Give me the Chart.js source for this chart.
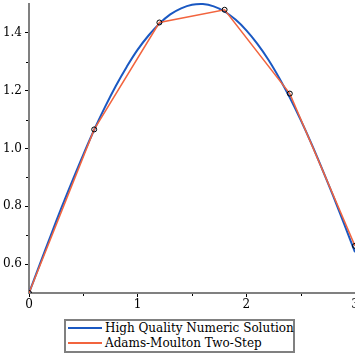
<!DOCTYPE html>
<html><head><meta charset="utf-8">
<script src="https://cdn.jsdelivr.net/npm/chart.js@4"></script>
<style>
html,body{margin:0;padding:0;background:#fff;}
#wrap{position:relative;width:355px;height:355px;}
#legend{position:absolute;left:64px;top:319px;width:227px;height:30px;border:2px solid #808080;background:#fff;font-family:"DejaVu Serif",serif;font-size:12px;color:#000;}
.row{position:absolute;left:2px;height:15px;line-height:15px;white-space:nowrap;}
.sw{display:inline-block;width:34px;height:2px;vertical-align:middle;margin-right:3px;position:relative;top:-1px;}
</style></head>
<body>
<div id="wrap"><canvas id="c" width="355" height="355"></canvas>
<div id="legend">
<div class="row" style="top:0px"><span class="sw" id="sw1"></span><span id="l1"></span></div>
<div class="row" style="top:15px"><span class="sw" id="sw2"></span><span id="l2"></span></div>
</div></div>
<script>
const seriesNames = ["High Quality Numeric Solution", "Adams-Moulton Two-Step"];
const exactX = [0,0.1,0.2,0.3,0.4,0.5,0.6,0.7,0.8,0.9,1.0,1.1,1.2,1.3,1.4,1.5,1.6,1.7,1.8,1.9,2.0,2.1,2.2,2.3,2.4,2.5,2.6,2.7,2.8,2.9,3.0];
const exactY = [0.5,0.600,0.699,0.796,0.889,0.979,1.065,1.144,1.217,1.283,1.342,1.391,1.432,1.464,1.485,1.4975,1.4996,1.4917,1.474,1.446,1.409,1.363,1.309,1.246,1.176,1.099,1.016,0.927,0.835,0.739,0.641];
const amX = [0,0.6,1.2,1.8,2.4,3.0];
const amY = [0.5,1.066,1.436,1.480,1.190,0.663];
const yMajorTicks = [0.6,0.8,1.0,1.2,1.4];
const yMinorTicks = [0.7,0.9,1.1,1.3];
const xMajorTicks = [0,1,2,3];
const xMinorTicks = [0.5,1.5,2.5];
const blue = "#1a58c2", orange = "#f2643e";

document.getElementById('l1').textContent = seriesNames[0];
document.getElementById('l2').textContent = seriesNames[1];
document.getElementById('sw1').style.background = blue;
document.getElementById('sw2').style.background = orange;

const font = {family:"DejaVu Serif", size:12};
const minorTicks = {
  id:'minorTicks',
  afterDraw(chart){
    const ctx = chart.ctx, ys = chart.scales.y, xs = chart.scales.x, ca = chart.chartArea;
    ctx.save(); ctx.strokeStyle = '#000'; ctx.lineWidth = 1;
    ctx.beginPath();
    yMinorTicks.forEach(v=>{const p=Math.round(ys.getPixelForValue(v))+0.5; ctx.moveTo(ca.left-1,p); ctx.lineTo(ca.left-3,p);});
    xMinorTicks.forEach(v=>{const p=Math.round(xs.getPixelForValue(v))+0.5; ctx.moveTo(p,ca.bottom+1); ctx.lineTo(p,ca.bottom+3);});
    ctx.stroke(); ctx.restore();
  }
};
function noPad(s){
  s.paddingLeft=0; s.paddingRight=0; s.paddingTop=0; s.paddingBottom=0;
  if (s._margins){ s._margins.right=0; s._margins.top=0; }
}
new Chart(document.getElementById('c'), {
  type:'line',
  data:{datasets:[
    {label:seriesNames[0], data:exactX.map((x,i)=>({x, y:exactY[i]})), borderColor:blue, borderWidth:2, pointRadius:0, tension:0.4, order:2, clip:{left:0, top:3, right:0, bottom:0}},
    {label:seriesNames[1], data:amX.map((x,i)=>({x, y:amY[i]})), borderColor:orange, borderWidth:1.5, pointRadius:2.5, pointBorderColor:'#000', pointBorderWidth:1, pointBackgroundColor:'rgba(0,0,0,0)', tension:0, order:1}
  ]},
  options:{
    responsive:false, animation:false, devicePixelRatio:1,
    layout:{padding:{top:4,right:0,bottom:0,left:0}, autoPadding:false},
    plugins:{legend:{display:false}, tooltip:{enabled:false}},
    scales:{
      x:{type:'linear', min:0, max:3,
        afterBuildTicks:s=>{s.ticks = xMajorTicks.map(v=>({value:v}));},
        afterFit:s=>{s.height = 62; noPad(s);},
        grid:{drawOnChartArea:false, tickLength:4, tickColor:'#000'},
        border:{color:'#808080', width:2},
        ticks:{font, color:'#000', padding:1, maxRotation:0, callback:v=>String(v)}},
      y:{type:'linear', min:0.5, max:1.5,
        afterBuildTicks:s=>{s.ticks = yMajorTicks.map(v=>({value:v}));},
        afterFit:s=>{s.width = 29; noPad(s);},
        grid:{drawOnChartArea:false, tickLength:4, tickColor:'#000'},
        border:{color:'#808080', width:2},
        ticks:{font, color:'#000', padding:3, callback:v=>v.toFixed(1)}}
    }
  },
  plugins:[minorTicks]
});
</script>
</body></html>
